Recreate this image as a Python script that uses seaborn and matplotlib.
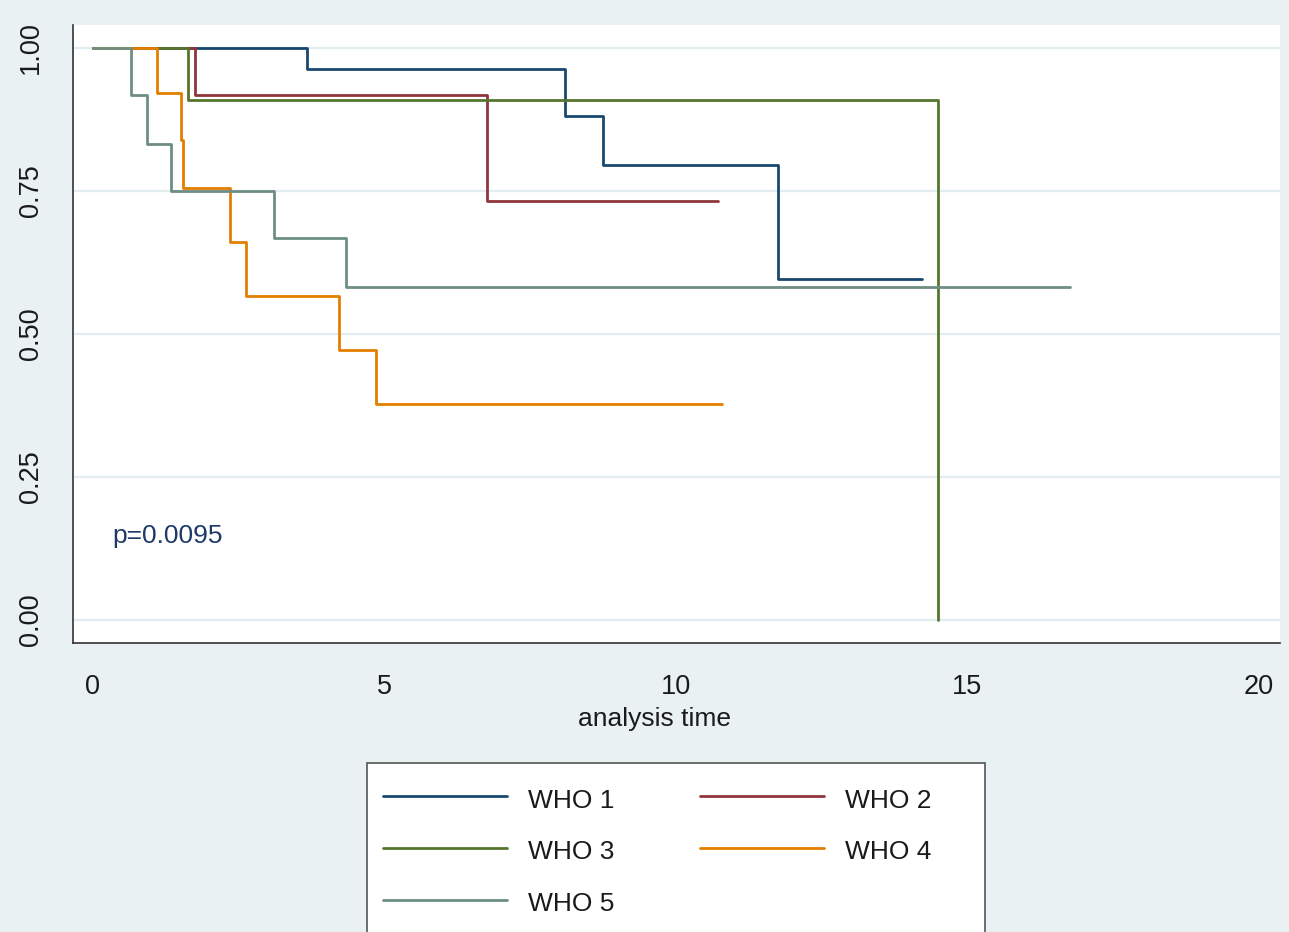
import numpy as np
import pandas as pd
import matplotlib
matplotlib.use("Agg")
import matplotlib.pyplot as plt
from matplotlib.lines import Line2D
from matplotlib.patches import Rectangle
import seaborn as sns

groups = ["WHO 1", "WHO 2", "WHO 3", "WHO 4", "WHO 5"]
who1_t = [0, 3.67, 8.10, 8.75, 11.75, 14.22]
who1_s = [1.0, 0.963, 0.881, 0.795, 0.596, 0.596]
who2_t = [0, 1.75, 6.76, 10.72]
who2_s = [1.0, 0.917, 0.733, 0.733]
who3_t = [0, 1.63, 14.49]
who3_s = [1.0, 0.909, 0.0]
who4_t = [0, 1.10, 1.51, 1.54, 2.35, 2.62, 4.22, 4.85, 10.79]
who4_s = [1.0, 0.921, 0.839, 0.755, 0.661, 0.566, 0.472, 0.378, 0.378]
who5_t = [0, 0.65, 0.93, 1.34, 3.10, 4.34, 16.76]
who5_s = [1.0, 0.917, 0.833, 0.750, 0.667, 0.583, 0.583]
colors = ["#1a476f", "#90353b", "#55752f", "#e37e00", "#6e8e84"]
x_ticks = [0, 5, 10, 15, 20]
y_ticks = [0.0, 0.25, 0.5, 0.75, 1.0]
y_ticklabels = ["0.00", "0.25", "0.50", "0.75", "1.00"]
p_text = "p=0.0095"
x_label = "analysis time"

times = [who1_t, who2_t, who3_t, who4_t, who5_t]
survs = [who1_s, who2_s, who3_s, who4_s, who5_s]
rows = []
for g, ts, ss in zip(groups, times, survs):
    for i, (t, s) in enumerate(zip(ts, ss)):
        rows.append({"group": g, "time": t, "surv": s, "order": i})
df = pd.DataFrame(rows)

sns.set_theme(style="white")
plt.rcParams['font.family'] = ['Liberation Sans', 'DejaVu Sans']
bg = "#e9f1f3"

fig = plt.figure(figsize=(12.89, 9.32), dpi=100, facecolor=bg)
ax = fig.add_axes([73/1289, 1-643/932, (1280-73)/1289, (643-25)/932])
ax.set_facecolor("white")

for y in y_ticks:
    ax.axhline(y, color="#e3ecef", lw=1.6, zorder=0)

sns.lineplot(data=df, x="time", y="surv", hue="group", hue_order=groups,
             palette=colors, drawstyle="steps-post", estimator=None,
             sort=False, units="group", lw=2.0, ax=ax, legend=False)

ax.set_xlim((73-93)/58.3, (1280-93)/58.3)
ax.set_ylim((620-643)/572, (620-25)/572)
ax.set_xticks(x_ticks)
ax.set_yticks(y_ticks)
ax.set_yticklabels(y_ticklabels, rotation=90, va="center")
ax.tick_params(axis="both", which="major", direction="out", length=11,
               width=1.2, color="#333333", labelsize=19.5, labelcolor="#1a1a1a")
ax.tick_params(axis="x", pad=11)
ax.tick_params(axis="y", pad=10)
for side in ["top", "right"]:
    ax.spines[side].set_visible(False)
for side in ["left", "bottom"]:
    ax.spines[side].set_color("#333333")
    ax.spines[side].set_linewidth(1.2)

ax.set_xlabel(x_label, fontsize=19, color="#1a1a1a")
ax.set_ylabel("")
ax.xaxis.set_label_coords((654-73)/1207, -(719-643)/618, transform=ax.transAxes)
ax.xaxis.label.set_va("center")

ax.text(0.34, 0.147, p_text, fontsize=19, color="#1f3a68", va="center", ha="left")

# legend box (extends past the bottom edge, as in the reference)
fig.patches.append(Rectangle((367/1289, -0.05), (985-367)/1289, (1-763/932) + 0.05,
                             transform=fig.transFigure, facecolor="white",
                             edgecolor="#555555", linewidth=1.2, zorder=1))

order = [0, 2, 4, 1, 3]
blank = Line2D([0], [0], visible=False)
handles = [Line2D([0], [0], color=colors[i], lw=2.0) for i in order]
labels = [groups[i] for i in order]
handles.insert(5, blank)
labels.insert(5, "")
leg = fig.legend(handles, labels, loc="upper left",
                 bbox_to_anchor=(367/1289, 1-768/932), ncol=2,
                 fontsize=19, frameon=False,
                 handlelength=4.7, handleheight=1.36, handletextpad=0.8,
                 columnspacing=3.25, labelspacing=0.84, borderpad=0.6,
                 borderaxespad=0)
leg.set_zorder(2)
for t in leg.get_texts():
    t.set_color("#1a1a1a")

fig.savefig("out.png", dpi=100, facecolor=bg)
